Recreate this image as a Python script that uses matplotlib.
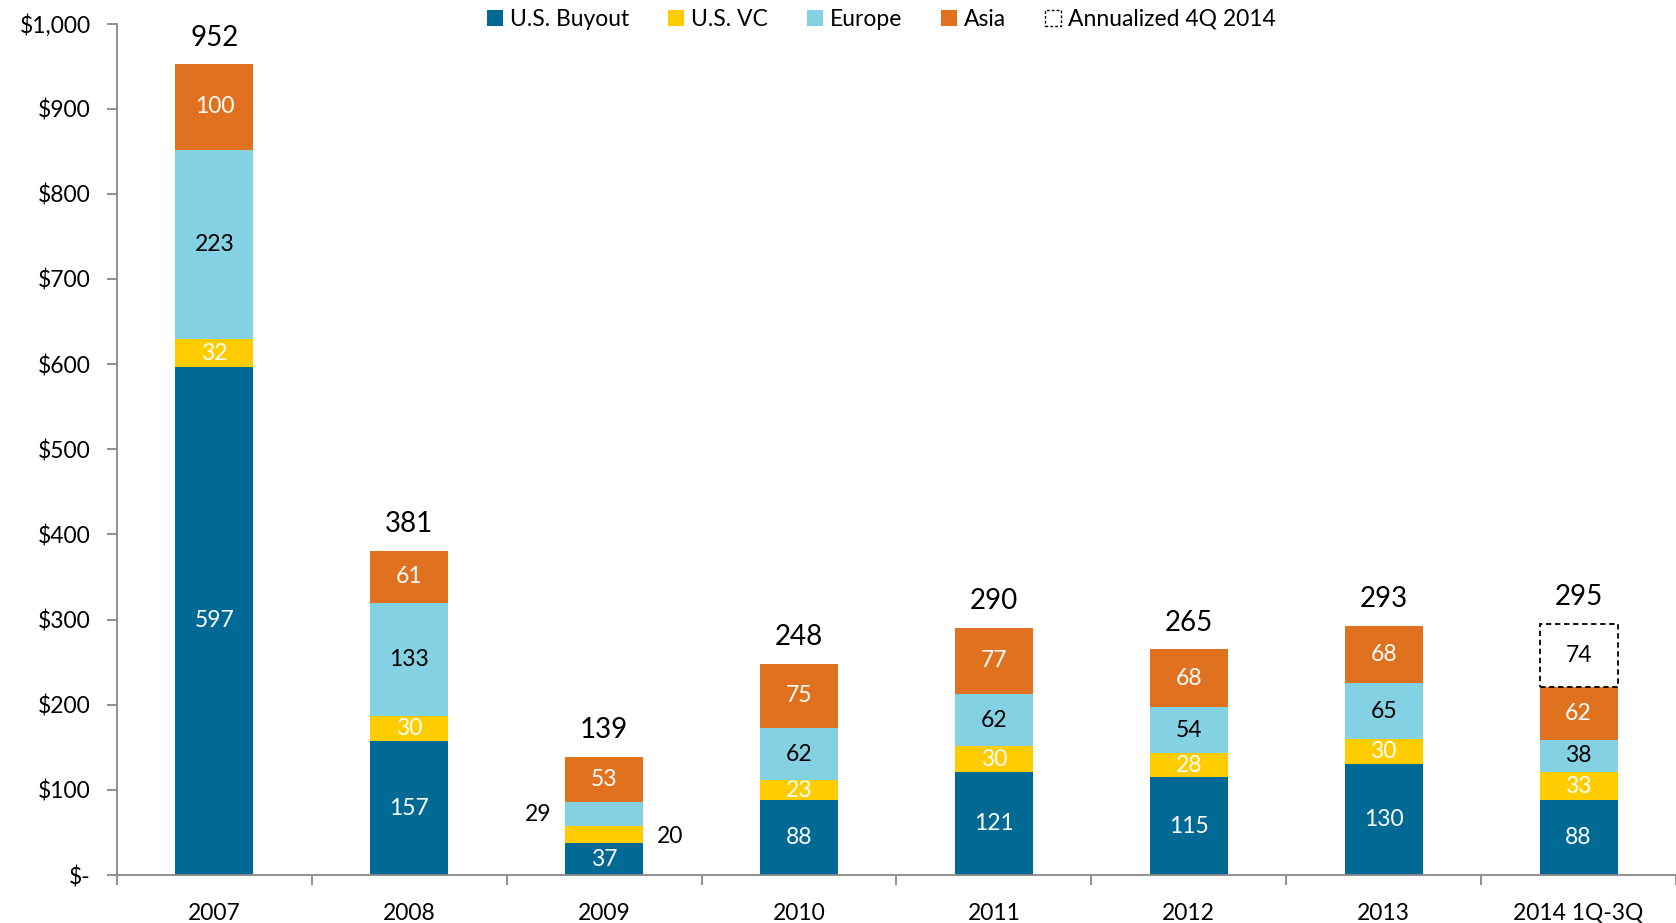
import numpy as np
import matplotlib.pyplot as plt
from matplotlib.patches import Patch

plt.rcParams['font.family'] = ['Lato', 'DejaVu Sans']

years = ['2007', '2008', '2009', '2010', '2011', '2012', '2013', '2014 1Q-3Q']
buyout = [597, 157, 37, 88, 121, 115, 130, 88]
vc = [32, 30, 20, 23, 30, 28, 30, 33]
europe = [223, 133, 29, 62, 62, 54, 65, 38]
asia = [100, 61, 53, 75, 77, 68, 68, 62]
annualized = [0, 0, 0, 0, 0, 0, 0, 74]
totals = [952, 381, 139, 248, 290, 265, 293, 295]

series = [('U.S. Buyout', buyout, '#006994', 'white'),
          ('U.S. VC', vc, '#FFCC00', 'white'),
          ('Europe', europe, '#84D1E3', 'black'),
          ('Asia', asia, '#E0711F', 'white')]

fig = plt.figure(figsize=(16.76, 9.23), dpi=100)
ax = fig.add_axes([0.0698, 0.052, 0.9302, 0.9225])

x = np.arange(len(years))
w = 0.40
lab_fs = 16.5
bottom = np.zeros(len(years))
for name, vals, col, tcol in series:
    vals = np.array(vals, dtype=float)
    ax.bar(x, vals, w, bottom=bottom, color=col, label=name, zorder=2)
    for i, v in enumerate(vals):
        yc = bottom[i] + v / 2
        if years[i] == '2009' and name == 'U.S. VC':
            ax.text(x[i] + w / 2 + 0.14, yc - 2, f'{v:.0f}', ha='center', va='center',
                    fontsize=lab_fs, color='black')
        elif years[i] == '2009' and name == 'Europe':
            ax.text(x[i] - w / 2 - 0.14, yc, f'{v:.0f}', ha='center', va='center',
                    fontsize=lab_fs, color='black')
        else:
            ax.text(x[i], yc, f'{v:.0f}', ha='center', va='center',
                    fontsize=lab_fs, color=tcol)
    bottom += vals

# dashed box for the annualized 4Q estimate
for i, v in enumerate(annualized):
    if v > 0:
        ax.bar(x[i], v, w, bottom=bottom[i], facecolor='white', edgecolor='black',
               linestyle=(0, (3, 2)), linewidth=1.3, zorder=2)
        ax.text(x[i], bottom[i] + v / 2, f'{v}', ha='center', va='center',
                fontsize=lab_fs, color='black')

for i, t in enumerate(totals):
    ax.text(x[i], t + 16, f'{t}', ha='center', va='bottom', fontsize=20, color='black')

ax.set_xlim(-0.5, 7.47)
ax.set_ylim(0, 1000)
ax.set_yticks(np.arange(0, 1001, 100))
ax.set_yticklabels(['$-'] + [f'${v:,}' for v in range(100, 1001, 100)])
ax.set_xticks(x)
ax.set_xticklabels(years)
ax.set_xticks(np.arange(-0.5, 7.6, 1), minor=True)
ax.tick_params(axis='x', which='major', length=0, pad=20, labelsize=16.5)
ax.tick_params(axis='x', which='minor', length=7, color='#888888', width=1.3)
ax.tick_params(axis='y', length=7, color='#888888', width=1.3, labelsize=16.5, pad=12)
for s in ['top', 'right']:
    ax.spines[s].set_visible(False)
for s in ['left', 'bottom']:
    ax.spines[s].set_color('#888888')
    ax.spines[s].set_linewidth(1.3)

handles = [Patch(facecolor=c, label=n) for n, _, c, _ in series]
handles.append(Patch(facecolor='white', edgecolor='black', linestyle=(0, (2, 1.5)),
                     linewidth=1, label='Annualized 4Q 2014'))
fig.legend(handles=handles, loc='center', bbox_to_anchor=(0.526, 0.979), ncol=5,
           frameon=False, fontsize=16.5, handlelength=0.7, handleheight=0.7,
           handletextpad=0.3, columnspacing=1.7)

fig.savefig('out.png', dpi=100)
